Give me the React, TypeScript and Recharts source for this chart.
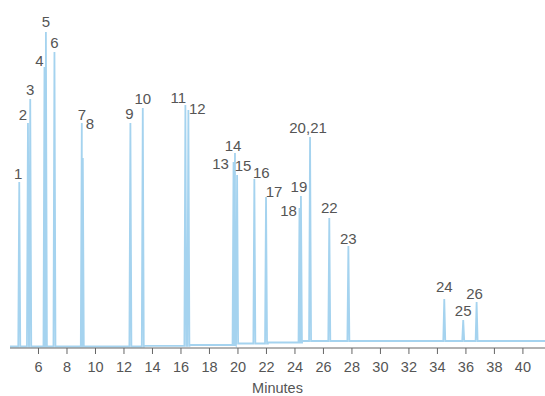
import React from 'react';
import { ComposedChart, Line, Scatter, XAxis, YAxis } from 'recharts';

// Peak retention times (minutes), heights (detector units) and labels
const peakTimes = [4.65, 5.26, 5.42, 6.42, 6.52, 7.12, 9.04, 9.11, 12.45, 13.32, 16.31, 16.52, 19.69, 19.79, 19.94, 21.15, 21.97, 24.32, 24.42, 25.06, 26.41, 27.75, 34.48, 35.81, 36.75];
const peakHeights = [166, 225, 249, 281, 316, 296, 225, 190, 225, 240, 243, 238, 186, 195, 173, 169, 151, 140, 152, 211, 130, 102, 49, 28, 46];
const peakLabels = ['1', '2', '3', '4', '5', '6', '7', '8', '9', '10', '11', '12', '13', '14', '15', '16', '17', '18', '19', '20,21', '22', '23', '24', '25', '26'];

// Baseline drift: step levels starting at given times
const baselineStart = [4, 13.4, 16.6, 19.8, 22.1, 24.5];
const baselineLevel = [1.5, 2.2, 3, 4.5, 5.5, 7];

const xTicks = [6, 8, 10, 12, 14, 16, 18, 20, 22, 24, 26, 28, 30, 32, 34, 36, 38, 40];

// label pixel offsets (style)
const labelOffsets: [number, number][] = [
  [-1, -9], [-5, -9], [0, -10], [-5, -7], [0, -11], [0, -10], [0, -9], [7, -35], [-1, -10], [0, -10],
  [-7, -8], [9, -2], [-13, 1], [-2, -8], [6, -10], [7, -7], [8, -6], [-11, 2], [-2, -10], [-2, -10],
  [0, -11], [0, -8], [0, -13], [0, -10], [-2, -9],
];

const HALF_WIDTH = 0.07;
const X_MIN = 4;
const X_MAX = 41.55;

function levelAt(t: number) {
  let lv = baselineLevel[0];
  for (let i = 0; i < baselineStart.length; i++) if (t >= baselineStart[i]) lv = baselineLevel[i];
  return lv;
}

const trace: { t: number; v: number }[] = [];
baselineStart.forEach((s, i) => {
  trace.push({ t: s, v: baselineLevel[i] });
  const end = i + 1 < baselineStart.length ? baselineStart[i + 1] : X_MAX;
  trace.push({ t: end - 0.001, v: baselineLevel[i] });
});
peakTimes.forEach((t, i) => {
  trace.push({ t: t - HALF_WIDTH, v: levelAt(t) });
  trace.push({ t, v: peakHeights[i] });
  trace.push({ t: t + HALF_WIDTH, v: levelAt(t) });
});
trace.sort((a, b) => a.t - b.t);

const labelData = peakTimes.map((t, i) => ({ t, v: peakHeights[i], label: peakLabels[i], idx: i }));

const FONT = '"Liberation Sans", Arial, sans-serif';

const LabelShape = (props: any) => {
  const { cx, cy, payload } = props;
  const [dx, dy] = labelOffsets[payload.idx];
  return (
    <text x={cx + dx} y={cy + dy} textAnchor="middle" dominantBaseline="central" fontSize={15} fontFamily={FONT} fill="#555">
      {payload.label}
    </text>
  );
};

export default function App() {
  return (
    <div style={{ position: 'absolute', left: 0, top: 0, background: '#fff' }}>
      <ComposedChart width={545} height={396} margin={{ top: 0, right: 0, bottom: 0, left: 10 }}>
        <XAxis
          type="number"
          dataKey="t"
          domain={[X_MIN, X_MAX]}
          ticks={xTicks}
          allowDataOverflow
          height={48}
          tickSize={6}
          tickMargin={8}
          stroke="#666"
          tick={{ fill: '#555', fontSize: 14.5, fontFamily: FONT }}
          label={{ value: 'Minutes', position: 'insideBottom', offset: 3, fill: '#555', fontSize: 14.5, fontFamily: FONT }}
        />
        <YAxis type="number" domain={[0, 348]} hide />
        <Line
          data={trace}
          dataKey="v"
          type="linear"
          stroke="#a5d3ef"
          strokeWidth={1.8}
          dot={false}
          isAnimationActive={false}
        />
        <Scatter data={labelData} dataKey="v" shape={LabelShape} isAnimationActive={false} />
      </ComposedChart>
    </div>
  );
}
